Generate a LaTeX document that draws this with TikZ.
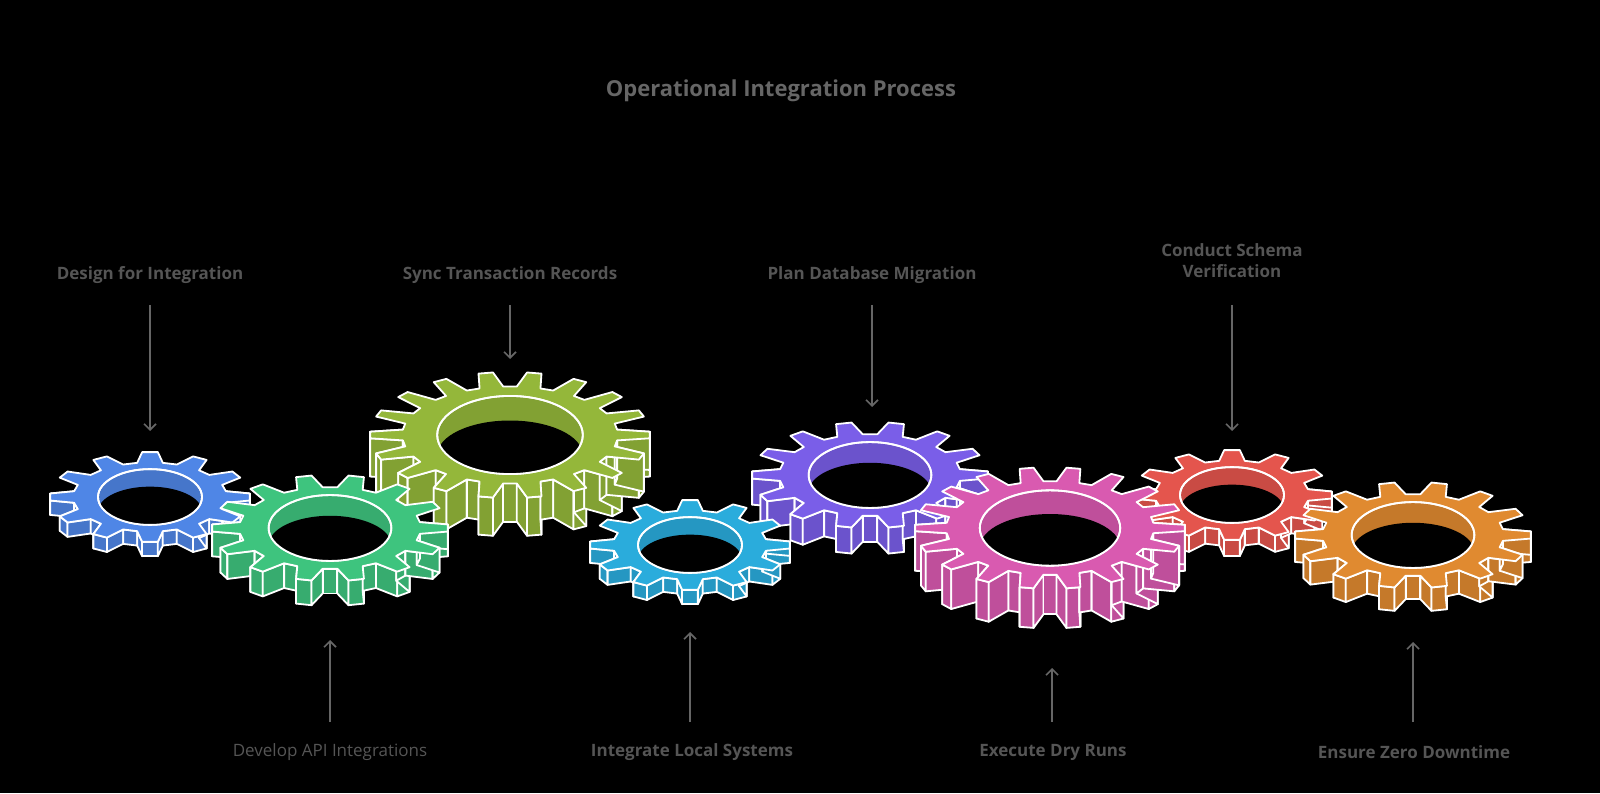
\documentclass[tikz,border=0pt]{standalone}
\usepackage{fontspec}
\setmainfont{Liberation Sans}
\newfontfamily\lab{Open Sans}
\usetikzlibrary{arrows.meta}
\definecolor{gblue}{HTML}{4F86E6}
\definecolor{ggreen}{HTML}{3EC47E}
\definecolor{gyel}{HTML}{94B73A}
\definecolor{gcyan}{HTML}{2AACDC}
\definecolor{gpurp}{HTML}{7A5EE8}
\definecolor{gpink}{HTML}{D95AB0}
\definecolor{gred}{HTML}{E4554D}
\definecolor{gorg}{HTML}{E08A30}
\definecolor{txt}{HTML}{555555}
\tikzset{lbl/.style={text=txt,font=\lab\bfseries\fontsize{17}{21}\selectfont,align=center},
 arr/.style={draw=txt!90,line width=1.6pt,-{Straight Barb[length=6pt,width=12pt]}},
 gl/.style={draw=white,line width=1.8pt,line join=round}}
\newcommand\gpt[3]{% k R step
 \pgfmathsetmacro\ga{floor(#1/4)*#3+{-0.32,-0.15,0.15,0.32}[mod(#1,4)]*#3}%
 \pgfmathsetmacro\gr{{0.77,1,1,0.77}[mod(#1,4)]*#2}}
\newcommand\gear[6]{% cx cy(screen) R n h color
\begin{scope}[shift={(#1,793-#2)},yscale=0.45]
\pgfmathsetmacro\st{360/#4}
\pgfmathtruncatemacro\nv{4*#4-1}
\pgfmathtruncatemacro\nw{4*#4}
\foreach \k in {0,...,\nw}{\gpt{\k}{#3}{\st}\coordinate (p\k) at (\ga:\gr);}
\foreach \k in {0,...,\nv}{
 \pgfmathtruncatemacro\kn{\k+1}
 \gpt{\k}{#3}{\st}\let\aa\ga
 \gpt{\kn}{#3}{\st}\let\ab\ga
 \pgfmathsetmacro\sm{sin((\aa+\ab)/2)}
 \ifdim\sm pt<0.15pt
 \filldraw[gl,fill=#6!88!black] (p\k) -- (p\kn) -- ([yshift=-#5pt]p\kn) -- ([yshift=-#5pt]p\k) -- cycle;
 \fi
}
\filldraw[gl,fill=#6] (p0) \foreach \k in {1,...,\nv}{ -- (p\k)} -- cycle;
\filldraw[gl,fill=#6!88!black] (0,0) ellipse ({0.52*#3} and {0.62*#3});
\begin{scope}
\clip (0,0) ellipse ({0.52*#3} and {0.62*#3});
\fill[black] (0,{-0.32*#3}) ellipse ({0.52*#3} and {0.55*#3});
\end{scope}
\draw[gl] (0,0) ellipse ({0.52*#3} and {0.62*#3});
\end{scope}}
\begin{document}
\begin{tikzpicture}[x=1pt,y=1pt]
\fill[black] (0,0) rectangle (1600,793);
\useasboundingbox (0,0) rectangle (1600,793);
\node[text=txt!90,font=\lab\bfseries\fontsize{22}{26}\selectfont] (title) at (781,702) {Operational Integration Process};
\gear{510}{435}{140}{18}{85}{gyel}
\gear{150}{497}{100}{12}{32}{gblue}
\gear{330}{528}{118}{14}{55}{ggreen}
\gear{870}{475}{118}{14}{58}{gpurp}
\gear{690}{545}{100}{12}{32}{gcyan}
\gear{1232}{495}{100}{12}{36}{gred}
\gear{1050}{528}{135}{18}{88}{gpink}
\gear{1413}{535}{118}{14}{52}{gorg}
% labels
\node[lbl] (l1) at (150,518) {Design for Integration};
\node[lbl] (l2) at (510,518) {Sync Transaction Records};
\node[lbl] (l3) at (872,518) {Plan Database Migration};
\node[lbl] (l4) at (1232,532) {Conduct Schema\\Verification};
\node[lbl,font=\lab\fontsize{17}{21}\selectfont] (l5) at (330,41) {Develop API Integrations};
\node[lbl] (l6) at (692,41) {Integrate Local Systems};
\node[lbl] (l7) at (1053,41) {Execute Dry Runs};
\node[lbl] (l8) at (1414,41) {Ensure Zero Downtime};
\coordinate (t1) at (150,362); \coordinate (t2) at (510,434);
\coordinate (t3) at (872,386); \coordinate (t4) at (1232,362);
\coordinate (b1) at (330,153); \coordinate (b2) at (690,161);
\coordinate (b3) at (1052,125); \coordinate (b4) at (1413,151);
\coordinate (s1) at (150,488); \coordinate (s2) at (510,488);
\coordinate (s3) at (872,488); \coordinate (s4) at (1232,488);
\coordinate (u1) at (330,71); \coordinate (u2) at (690,71);
\coordinate (u3) at (1052,71); \coordinate (u4) at (1413,71);
\foreach \i in {1,2,3,4}{\draw[arr] (s\i) -- (t\i); \draw[arr] (u\i) -- (b\i);}
\end{tikzpicture}
\end{document}
